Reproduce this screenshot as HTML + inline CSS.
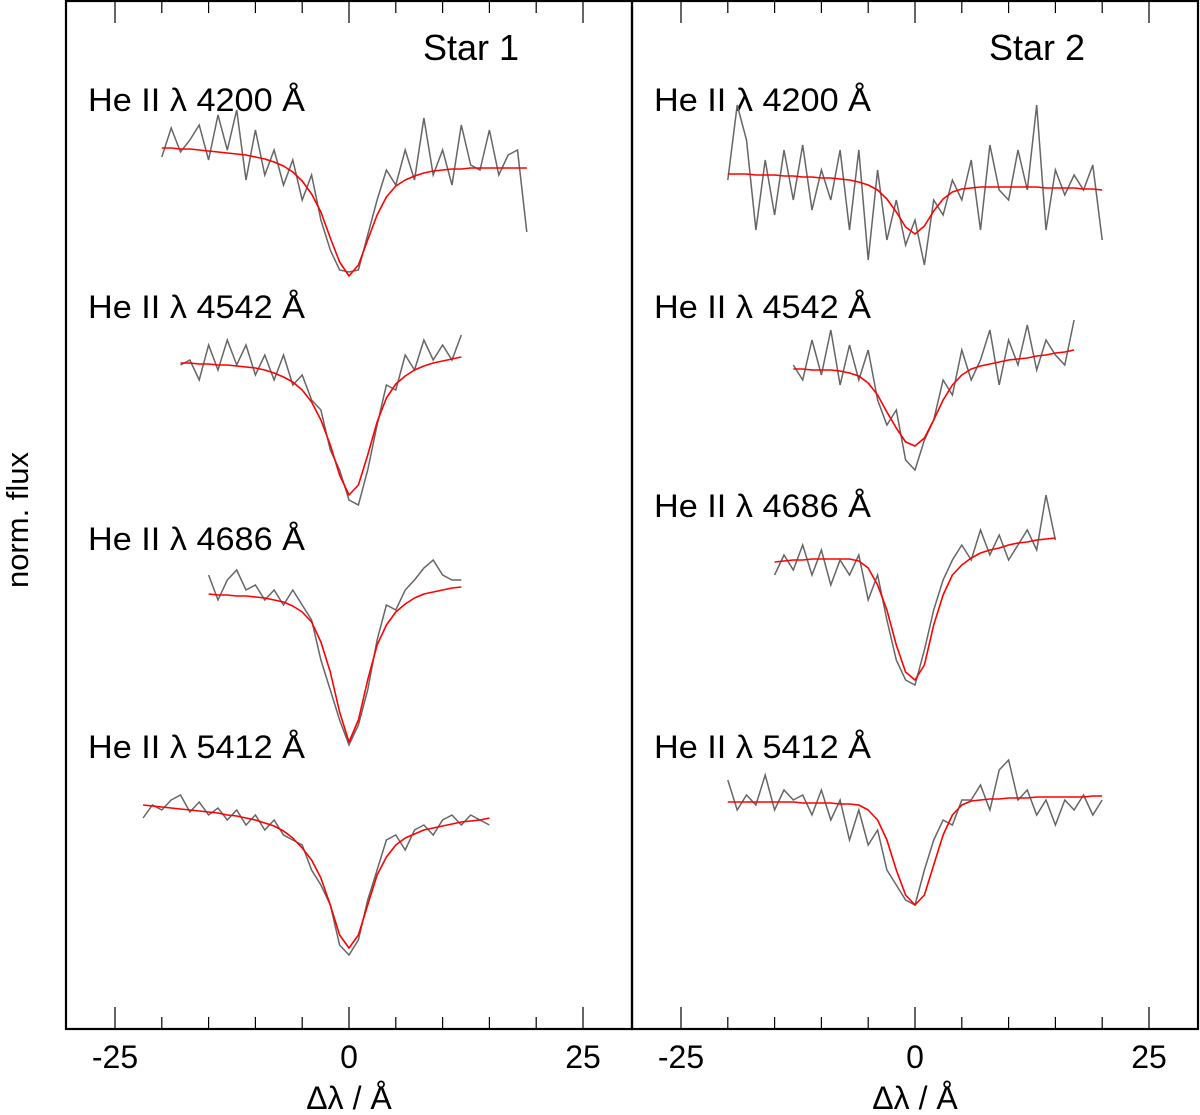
<!DOCTYPE html>
<html><head><meta charset="utf-8"><style>
body{margin:0;background:#fff}
svg{display:block;font-family:"Liberation Sans",sans-serif}
</style></head><body>
<svg id="chart" width="1200" height="1115" viewBox="0 0 1200 1115"></svg>
<script>
const ticks = [-25,-20,-15,-10,-5,0,5,10,15,20,25];
const tickLabels = ["-25","0","25"];
const panelTitles = ["Star 1","Star 2"];
const lineNames = ["He II \u03bb 4200 \u00c5","He II \u03bb 4542 \u00c5","He II \u03bb 4686 \u00c5","He II \u03bb 5412 \u00c5"];
const offsets1 = [0.845,0.638,0.407,0.195];
const offsets2 = [0.825,0.632,0.442,0.198];
const xStart1 = [-20,-18,-15,-22];
const xStart2 = [-20,-13,-15,-20];
// Star 1 data
const s1_4200 = [0.998,1.027,1.003,1.015,1.030,0.995,1.040,1.005,1.045,0.975,1.025,0.980,1.005,0.970,0.995,0.955,0.980,0.935,0.905,0.885,0.883,0.885,0.920,0.955,0.985,0.970,1.005,0.975,1.037,0.980,1.005,0.970,1.030,0.990,0.985,1.025,0.980,1.000,1.005,0.923];
const f1_4200 = [1.007,1.007,1.006,1.006,1.005,1.004,1.003,1.002,1.001,1.000,0.998,0.996,0.993,0.989,0.983,0.974,0.961,0.943,0.917,0.893,0.879,0.890,0.915,0.940,0.958,0.969,0.975,0.979,0.982,0.984,0.985,0.986,0.986,0.987,0.987,0.987,0.987,0.987,0.987,0.987];
const s1_4542 = [0.997,1.002,0.982,1.017,0.992,1.022,0.997,1.017,0.987,1.007,0.982,1.007,0.977,0.987,0.962,0.952,0.912,0.892,0.862,0.857,0.892,0.937,0.977,0.972,1.007,0.992,1.022,1.002,1.017,1.002,1.027];
const f1_4542 = [0.999,0.999,0.998,0.998,0.997,0.997,0.996,0.995,0.994,0.992,0.989,0.985,0.980,0.972,0.960,0.942,0.917,0.887,0.867,0.877,0.907,0.940,0.964,0.978,0.986,0.992,0.996,0.999,1.001,1.003,1.005];
const s1_4686 = [1.018,0.993,1.013,1.023,1.003,1.008,0.993,1.003,0.988,1.003,0.988,0.973,0.933,0.903,0.873,0.848,0.868,0.903,0.953,0.988,0.983,1.003,1.013,1.025,1.033,1.018,1.013,1.013];
const f1_4686 = [0.999,0.998,0.998,0.997,0.997,0.996,0.995,0.993,0.991,0.987,0.981,0.971,0.951,0.921,0.881,0.851,0.873,0.913,0.948,0.968,0.981,0.989,0.995,0.999,1.001,1.003,1.005,1.006];
const s1_5412 = [0.987,1.000,0.995,1.005,1.010,0.993,1.003,0.990,0.997,0.985,0.995,0.980,0.990,0.975,0.985,0.970,0.965,0.960,0.935,0.920,0.900,0.860,0.850,0.865,0.905,0.935,0.965,0.970,0.955,0.975,0.980,0.970,0.985,0.990,0.980,0.990,0.985,0.980];
const f1_5412 = [1.000,0.999,0.998,0.997,0.996,0.995,0.994,0.993,0.992,0.990,0.989,0.987,0.985,0.982,0.979,0.974,0.967,0.957,0.945,0.927,0.900,0.870,0.857,0.870,0.900,0.930,0.948,0.960,0.967,0.971,0.975,0.977,0.979,0.981,0.983,0.984,0.985,0.987];
// Star 2 data
const s2_4200 = [0.995,1.070,1.035,0.945,1.015,0.960,1.025,0.975,1.030,0.965,1.005,0.975,1.025,0.945,1.025,0.915,1.005,0.935,0.975,0.930,0.955,0.910,0.975,0.960,0.995,0.975,1.015,0.945,1.030,0.985,0.975,1.025,0.985,1.070,0.945,1.005,0.980,1.000,0.985,1.010,0.935];
const f2_4200 = [1.001,1.001,1.001,1.000,1.000,1.000,0.999,0.999,0.998,0.998,0.997,0.997,0.996,0.995,0.993,0.990,0.985,0.976,0.963,0.948,0.941,0.949,0.964,0.976,0.983,0.986,0.987,0.988,0.988,0.988,0.988,0.988,0.988,0.988,0.987,0.987,0.987,0.987,0.986,0.986,0.985];
const s2_4542 = [1.003,0.988,1.028,0.993,1.038,0.983,1.023,0.988,1.018,0.968,0.943,0.958,0.908,0.898,0.928,0.948,0.988,0.973,1.018,0.988,1.008,1.038,0.983,1.028,1.003,1.043,0.998,1.028,1.013,1.003,1.048];
const f2_4542 = [0.999,0.999,0.998,0.998,0.998,0.997,0.995,0.992,0.985,0.973,0.956,0.940,0.926,0.922,0.930,0.948,0.968,0.983,0.993,0.999,1.002,1.004,1.006,1.008,1.009,1.010,1.012,1.013,1.015,1.016,1.018];
const s2_4686 = [0.983,1.003,0.988,1.013,0.983,1.008,0.973,0.998,0.983,1.003,0.958,0.983,0.938,0.898,0.878,0.873,0.908,0.948,0.978,0.998,1.013,0.998,1.028,1.003,1.023,0.998,1.013,1.028,1.008,1.063,1.018];
const f2_4686 = [0.996,0.997,0.998,0.998,0.999,0.999,0.999,0.999,0.999,0.997,0.990,0.973,0.948,0.913,0.886,0.878,0.893,0.933,0.963,0.983,0.993,1.000,1.005,1.008,1.010,1.013,1.015,1.016,1.018,1.019,1.020];
const s2_5412 = [1.022,0.992,1.007,0.997,1.027,0.992,1.012,1.002,1.007,0.987,1.012,0.982,1.002,0.962,0.992,0.957,0.972,0.932,0.917,0.902,0.897,0.932,0.962,0.982,0.977,1.002,1.002,1.017,0.992,1.032,1.042,1.002,1.012,0.987,1.002,0.977,1.002,0.992,1.007,0.987,1.002];
const f2_5412 = [1.000,1.000,1.000,1.000,1.000,1.000,1.000,1.000,0.999,0.999,0.999,0.999,0.998,0.998,0.997,0.992,0.982,0.962,0.932,0.907,0.897,0.907,0.937,0.967,0.987,0.997,1.001,1.002,1.003,1.003,1.004,1.004,1.004,1.005,1.005,1.005,1.005,1.005,1.005,1.006,1.006];

const svg = document.getElementById('chart');
const NS = 'http://www.w3.org/2000/svg';
function mk(tag, attrs, parent){const e=document.createElementNS(NS,tag);for(const k in attrs)e.setAttribute(k,attrs[k]);(parent||svg).appendChild(e);return e;}
const K = 9.36;
const panels = [
 {x0:66,x1:632,zero:349,title:panelTitles[0],tx:423,spec:[s1_4200,s1_4542,s1_4686,s1_5412],fit:[f1_4200,f1_4542,f1_4686,f1_5412],offs:offsets1,xs:xStart1,lab:[111,318,550,758]},
 {x0:632,x1:1198,zero:915,title:panelTitles[1],tx:989,spec:[s2_4200,s2_4542,s2_4686,s2_5412],fit:[f2_4200,f2_4542,f2_4686,f2_5412],offs:offsets2,xs:xStart2,lab:[111,318,517,758]}
];
const yScale = (f,off)=> (2 - f - off)*1000;
panels.forEach((p,pi)=>{
 const xScale = v => p.zero + v*K;
 const g = mk('g',{});
 
 
 ticks.forEach(t=>{
  const len = (t%25===0)?22:12;
  const x = xScale(t);
  const a = mk('line',{x1:x,x2:x,y1:1029,y2:1029-len,stroke:'#000','stroke-width':1.2},g);
  
  
  const b = mk('line',{x1:x,x2:x,y1:1,y2:1+len,stroke:'#000','stroke-width':1.2},g);
  
  
 });
 [-25,0,25].forEach((t,i)=>{
  const tl = mk('text',{x:xScale(t),y:1068,'text-anchor':'middle','font-size':32},g);
  tl.textContent = tickLabels[i];
  
  
 });
 const xl = mk('text',{x:xScale(0),y:1109,'text-anchor':'middle','font-size':32},g);
 xl.textContent = '\u0394\u03bb / \u00c5';
 
 
 const tt = mk('text',{x:p.tx,y:60,'font-size':36},g);
 tt.textContent = p.title;
 
 
 p.spec.forEach((d,i)=>{
  const lb = mk('text',{x:p.x0+22,y:p.lab[i],'font-size':32,textLength:217,lengthAdjust:'spacingAndGlyphs'},g);
  lb.textContent = lineNames[i];
  
  
  const pts = d.map((v,j)=>xScale(p.xs[i]+j).toFixed(1)+','+yScale(v,p.offs[i]).toFixed(1)).join(' ');
  const pl = mk('polyline',{points:pts,fill:'none',stroke:'#666','stroke-width':1.5},g);
  
  
  const fp = p.fit[i].map((v,j)=>xScale(p.xs[i]+j).toFixed(1)+','+yScale(v,p.offs[i]).toFixed(1)).join(' ');
  const fl = mk('polyline',{points:fp,fill:'none',stroke:'#f00','stroke-width':1.6,'stroke-linejoin':'round'},g);
  
  
 });
 const fr = mk('rect',{x:p.x0,y:1,width:p.x1-p.x0,height:1028,fill:'none',stroke:'#000','stroke-width':2.2},g);
 
 
});
const yl = mk('text',{x:0,y:0,'font-size':31,'text-anchor':'middle',transform:'translate(28,520) rotate(-90)'});
yl.textContent = 'norm. flux';


</script>
</body></html>
